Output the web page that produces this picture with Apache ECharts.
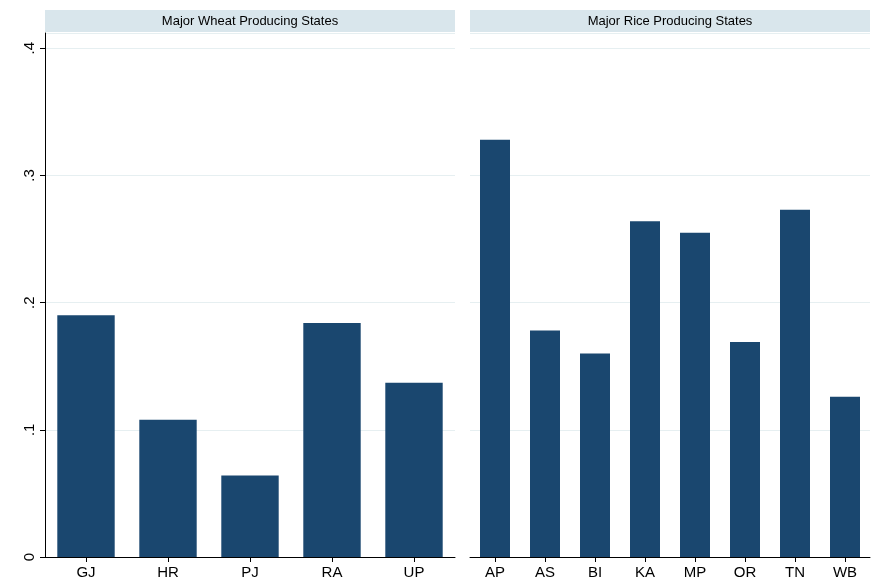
<!DOCTYPE html>
<html><head><meta charset="utf-8">
<script src="https://cdn.jsdelivr.net/npm/echarts@6/dist/echarts.min.js"></script>
<style>html,body{margin:0;background:#fff}#c{width:875px;height:587px}</style>
</head><body><div id="c"></div>
<script>
const wheatStates = ['GJ','HR','PJ','RA','UP'];
const wheatVals = [0.190, 0.108, 0.064, 0.184, 0.137];
const riceStates = ['AP','AS','BI','KA','MP','OR','TN','WB'];
const riceVals = [0.328, 0.178, 0.160, 0.264, 0.255, 0.169, 0.273, 0.126];
const panelTitles = ['Major Wheat Producing States','Major Rice Producing States'];

const chart = echarts.init(document.getElementById('c'));
const barColor = '#1a476f';
const yAx = (show) => ({
  type:'value', min:0, max:0.412, interval:0.1,
  axisLine:{show:show, lineStyle:{color:'#000'}},
  axisTick:{show:show, length:5, lineStyle:{color:'#000'}},
  axisLabel:{show:show, rotate:90, color:'#000', fontSize:15, fontFamily:'Liberation Sans',
    showMaxLabel:false, formatter:v => v===0 ? '0' : String(+v.toFixed(1)).replace(/^0/,'')},
  splitLine:{lineStyle:{color:'#e6eff1'}}
});
const xAx = (data, idx) => ({
  type:'category', data:data, gridIndex:idx,
  axisLine:{show:true, lineStyle:{color:'#000'}},
  axisTick:{show:true, alignWithLabel:true, length:5, lineStyle:{color:'#000'}},
  axisLabel:{color:'#000', fontSize:15, fontFamily:'Liberation Sans'}
});
chart.setOption({
  backgroundColor:'#fff',
  animation:false,
  grid:[
    {left:45, top:33, width:410, height:524},
    {left:470, top:33, width:400, height:524}
  ],
  xAxis:[xAx(wheatStates,0), xAx(riceStates,1)],
  yAxis:[Object.assign(yAx(true),{gridIndex:0}), Object.assign(yAx(false),{gridIndex:1})],
  series:[
    {type:'bar', xAxisIndex:0, yAxisIndex:0, data:wheatVals, barWidth:'70%', itemStyle:{color:barColor}},
    {type:'bar', xAxisIndex:1, yAxisIndex:1, data:riceVals, barWidth:'60%', itemStyle:{color:barColor}}
  ],
  graphic:[
    {type:'rect', shape:{x:45,y:10,width:410,height:22}, style:{fill:'#d9e6ec'}},
    {type:'rect', shape:{x:470,y:10,width:400,height:22}, style:{fill:'#d9e6ec'}},
    {type:'text', x:250, y:21, style:{text:panelTitles[0], align:'center', verticalAlign:'middle', fontSize:13, fontFamily:'Liberation Sans', fill:'#000'}},
    {type:'text', x:670, y:21, style:{text:panelTitles[1], align:'center', verticalAlign:'middle', fontSize:13, fontFamily:'Liberation Sans', fill:'#000'}}
  ]
});
</script></body></html>
